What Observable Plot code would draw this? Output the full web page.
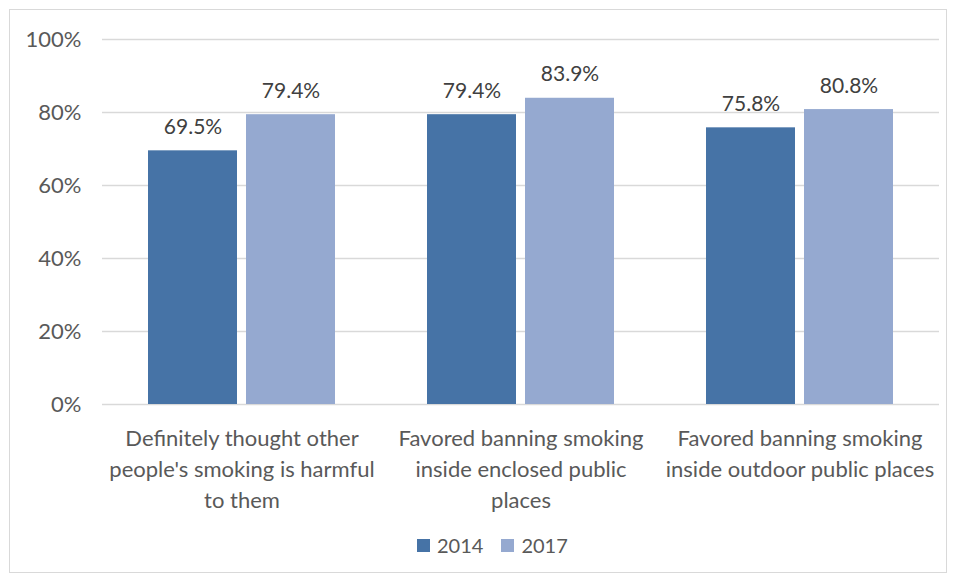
<!DOCTYPE html>
<html>
<head>
<meta charset="utf-8">
<script src="https://cdn.jsdelivr.net/npm/d3@7"></script>
<script src="https://cdn.jsdelivr.net/npm/@observablehq/plot@0.6"></script>
<style>
  html, body { margin: 0; padding: 0; background: #fff; }
  body { width: 956px; height: 582px; position: relative; overflow: hidden; font-family: Lato, "Open Sans", sans-serif; }
  #frame { position: absolute; left: 9px; top: 9px; width: 936px; height: 562px; border: 1px solid #d9d9d9; }
  #chart { position: absolute; left: 0; top: 0; }
  #legend { position: absolute; left: 417px; top: 533px; display: flex; align-items: center; font-size: 20px; color: #595959; }
  #legend .sw { width: 13px; height: 13px; display: inline-block; margin-right: 7px; }
  #legend .item { display: flex; align-items: center; margin-right: 18px; }
</style>
</head>
<body>
<div id="frame"></div>
<div id="chart"></div>
<div id="legend"></div>
<script>
const categories = [
  "Definitely thought other people's smoking is harmful to them",
  "Favored banning smoking inside enclosed public places",
  "Favored banning smoking inside outdoor public places"
];
const categoryLabels = [
  "Definitely thought other\npeople's smoking is harmful\nto them",
  "Favored banning smoking\ninside enclosed public\nplaces",
  "Favored banning smoking\ninside outdoor public places"
];
const years = ["2014", "2017"];
const values2014 = [0.695, 0.794, 0.758];
const values2017 = [0.794, 0.839, 0.808];
const yTicks = [0, 0.2, 0.4, 0.6, 0.8, 1.0];
const colors = ["#4673A6", "#95A9D0"];

const data = [];
categories.forEach((c, i) => {
  data.push({category: c, year: years[0], value: values2014[i]});
  data.push({category: c, year: years[1], value: values2017[i]});
});
const labelOf = new Map(categories.map((c, i) => [c, categoryLabels[i]]));
const pct0 = d3.format(".0%");
const pct1 = d3.format(".1%");

const chart = Plot.plot({
  width: 956,
  height: 520,
  marginLeft: 101,
  marginRight: 17,
  marginTop: 39,
  marginBottom: 116,
  style: {fontFamily: "Lato, 'Open Sans', sans-serif", background: "transparent"},
  fx: {domain: categories, padding: 0, label: null},
  x: {domain: years, paddingInner: 0.09, paddingOuter: 0.46, axis: null},
  y: {domain: [0, 1], label: null},
  color: {domain: years, range: colors},
  marks: [
    Plot.gridY(yTicks, {stroke: "#d9d9d9", strokeOpacity: 1, strokeWidth: 1.3}),
    Plot.axisY(yTicks, {tickFormat: pct0, tickSize: 0, tickPadding: 21, fontSize: 22, fill: "#595959", label: null}),
    Plot.axisFx({anchor: "bottom", tickSize: 0, tickPadding: 19, tickFormat: d => labelOf.get(d), lineHeight: 1.41, fontSize: 22, fill: "#595959", label: null}),
    Plot.barY(data, {fx: "category", x: "year", y: "value", fill: "year"}),
    Plot.text(data, {fx: "category", x: "year", y: "value", text: d => pct1(d.value), lineAnchor: "bottom", dy: -17, fontSize: 21, fill: "#404040"})
  ]
});
document.getElementById("chart").appendChild(chart);

const legend = document.getElementById("legend");
years.forEach((y, i) => {
  const item = document.createElement("div");
  item.className = "item";
  const sw = document.createElement("span");
  sw.className = "sw";
  sw.style.background = colors[i];
  item.appendChild(sw);
  item.appendChild(document.createTextNode(y));
  legend.appendChild(item);
});
</script>
</body>
</html>
